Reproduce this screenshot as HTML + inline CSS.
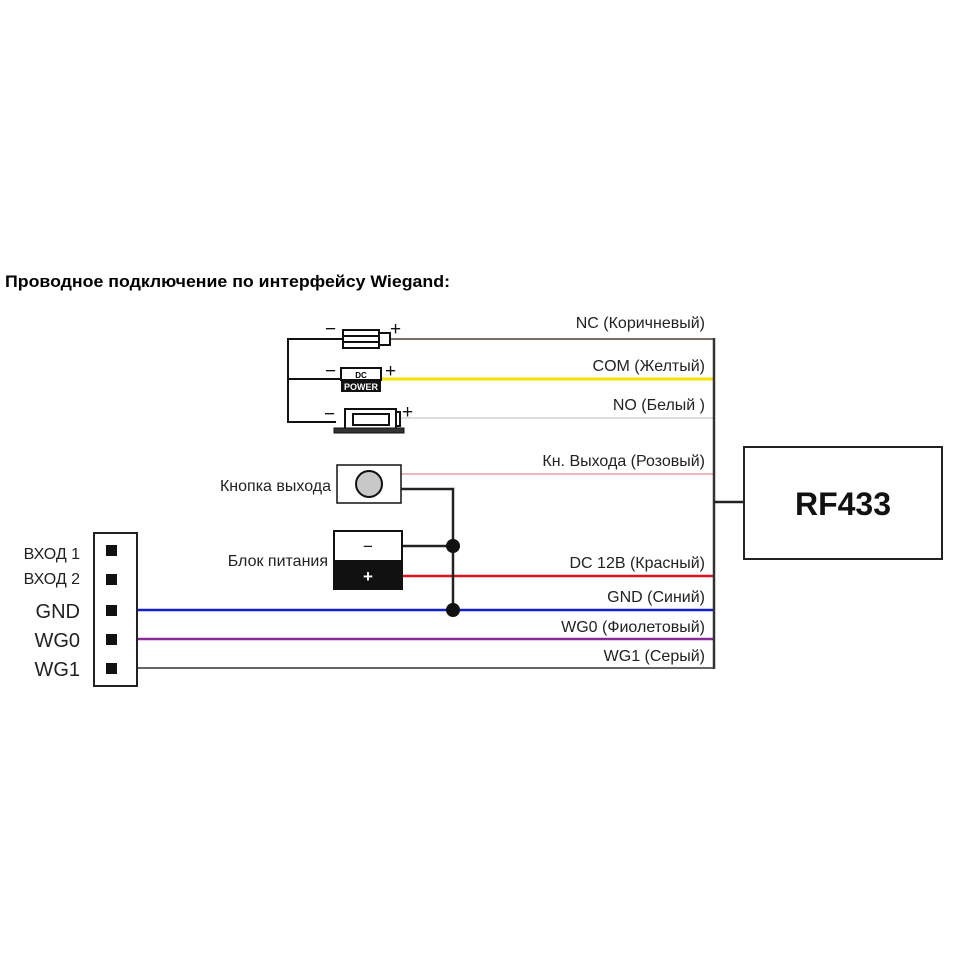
<!DOCTYPE html>
<html><head><meta charset="utf-8"><style>
html,body{margin:0;padding:0;background:#fff;width:953px;height:953px;overflow:hidden}
svg{display:block}
text{font-family:"Liberation Sans","DejaVu Sans",sans-serif}
</style></head><body>
<svg width="953" height="953" viewBox="0 0 953 953" xmlns="http://www.w3.org/2000/svg">
<text x="5" y="287" font-size="17" font-weight="bold" fill="#000" textLength="445" lengthAdjust="spacingAndGlyphs">Проводное подключение по интерфейсу Wiegand:</text>

<line x1="391" y1="339" x2="714" y2="339" stroke="#7d6e68" stroke-width="2"/>
<line x1="381" y1="379" x2="714" y2="379" stroke="#f5e200" stroke-width="3"/>
<line x1="401" y1="418" x2="714" y2="418" stroke="#dcdcdc" stroke-width="2"/>
<line x1="401" y1="474" x2="714" y2="474" stroke="#f0b6b8" stroke-width="2"/>
<line x1="403" y1="576" x2="714" y2="576" stroke="#e0101c" stroke-width="2.5"/>
<line x1="117" y1="610" x2="714" y2="610" stroke="#1020c8" stroke-width="2.5"/>
<line x1="117" y1="639" x2="714" y2="639" stroke="#8a2a9a" stroke-width="2.5"/>
<line x1="117" y1="668" x2="714" y2="668" stroke="#666" stroke-width="2"/>
<line x1="714" y1="338" x2="714" y2="669" stroke="#333" stroke-width="2.5"/>
<line x1="714" y1="502" x2="744" y2="502" stroke="#222" stroke-width="2.5"/>
<rect x="744" y="447" width="198" height="112" fill="#fff" stroke="#222" stroke-width="2"/>
<text x="843" y="515" font-size="32" font-weight="bold" text-anchor="middle" fill="#111">RF433</text>

<g font-size="16" fill="#222" text-anchor="end">
<text x="705" y="328">NC (Коричневый)</text>
<text x="705" y="371">COM (Желтый)</text>
<text x="705" y="410">NO (Белый )</text>
<text x="705" y="466">Кн. Выхода (Розовый)</text>
<text x="705" y="568">DC 12В (Красный)</text>
<text x="705" y="602">GND (Синий)</text>
<text x="705" y="632">WG0 (Фиолетовый)</text>
<text x="705" y="661">WG1 (Серый)</text>
<text x="331" y="491">Кнопка выхода</text>
<text x="328" y="566">Блок питания</text>
</g>

<g stroke="#111" stroke-width="2" fill="#fff">
<polyline points="343,339 288,339 288,422 336,422" fill="none"/>
<line x1="288" y1="379" x2="341" y2="379"/>
<rect x="343" y="330" width="36" height="18"/>
<line x1="343" y1="336" x2="379" y2="336"/>
<line x1="343" y1="342" x2="379" y2="342"/>
<rect x="379" y="333" width="11" height="12"/>
<rect x="341" y="368" width="40" height="12"/>
<rect x="345" y="409" width="51" height="20"/>
<rect x="353" y="414" width="36" height="11"/>
<rect x="396" y="412" width="4" height="14"/>
</g>
<rect x="341" y="380" width="40" height="12" fill="#111"/>
<rect x="334" y="428" width="70" height="5" fill="#333" stroke="#111" stroke-width="1"/>
<text x="361" y="378" font-size="8" font-weight="bold" text-anchor="middle">DC</text>
<text x="361" y="390" font-size="9" font-weight="bold" text-anchor="middle" fill="#fff">POWER</text>
<g font-size="19" fill="#111">
<text x="325" y="335">−</text><text x="390" y="335">+</text>
<text x="325" y="377">−</text><text x="385" y="377">+</text>
<text x="324" y="420">−</text><text x="402" y="418">+</text>
</g>

<rect x="337" y="465" width="64" height="38" fill="#fff" stroke="#111" stroke-width="1.5"/>
<circle cx="369" cy="484" r="13" fill="#c8c8c8" stroke="#111" stroke-width="2"/>
<polyline points="401,489 453,489 453,610" fill="none" stroke="#222" stroke-width="2.5"/>
<rect x="333" y="530" width="70" height="60" fill="#111"/>
<rect x="335" y="532" width="66" height="28" fill="#fff"/>
<text x="368" y="552" font-size="17" text-anchor="middle" fill="#111">−</text>
<text x="368" y="582" font-size="17" font-weight="bold" text-anchor="middle" fill="#fff">+</text>
<line x1="403" y1="546" x2="453" y2="546" stroke="#222" stroke-width="2.5"/>
<circle cx="453" cy="546" r="7" fill="#111"/>
<circle cx="453" cy="610" r="7" fill="#111"/>

<rect x="94" y="533" width="43" height="153" fill="#fff" stroke="#222" stroke-width="2"/>
<g fill="#111">
<rect x="106" y="545" width="11" height="11"/>
<rect x="106" y="574" width="11" height="11"/>
<rect x="106" y="605" width="11" height="11"/>
<rect x="106" y="634" width="11" height="11"/>
<rect x="106" y="663" width="11" height="11"/>
</g>
<g fill="#222" text-anchor="end">
<text x="80" y="559" font-size="16">ВХОД 1</text>
<text x="80" y="584" font-size="16">ВХОД 2</text>
<text x="80" y="618" font-size="20">GND</text>
<text x="80" y="647" font-size="20">WG0</text>
<text x="80" y="676" font-size="20">WG1</text>
</g>
</svg>
</body></html>
